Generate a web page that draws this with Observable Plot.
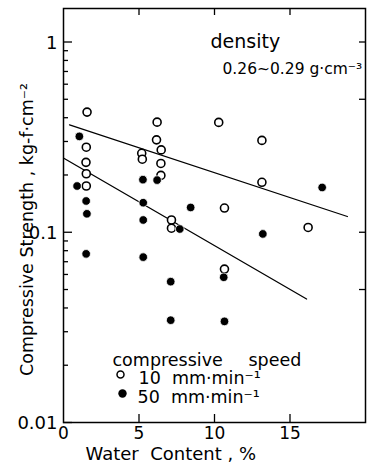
<!DOCTYPE html>
<html><head><meta charset="utf-8">
<script src="https://cdn.jsdelivr.net/npm/d3@7"></script>
<script src="https://cdn.jsdelivr.net/npm/@observablehq/plot@0.6"></script>
<style>body{margin:0;background:#fff;} #chart svg{display:block;}</style>
</head><body><div id="chart"></div>
<script>
// 10 mm/min (open circles)
const water10 = [1.56, 1.51, 1.49, 1.51, 1.51, 5.18, 5.22, 6.2, 6.16, 6.47, 6.45, 6.45, 7.15, 7.15, 10.28, 10.66, 10.66, 13.14, 13.14, 16.2];
const strength10 = [0.428, 0.28, 0.233, 0.203, 0.175, 0.26, 0.242, 0.379, 0.306, 0.271, 0.23, 0.199, 0.116, 0.105, 0.378, 0.134, 0.064, 0.304, 0.183, 0.106];
// 50 mm/min (filled circles)
const water50 = [1.05, 0.9, 1.5, 1.55, 1.5, 5.26, 5.28, 5.28, 5.28, 6.2, 7.1, 7.1, 7.7, 8.42, 10.61, 10.66, 13.2, 17.13];
const strength50 = [0.319, 0.175, 0.146, 0.125, 0.077, 0.189, 0.143, 0.116, 0.074, 0.188, 0.055, 0.0345, 0.104, 0.135, 0.058, 0.034, 0.098, 0.172];
// regression lines (end points)
const fitWater10 = [0.4, 18.8];
const fitStrength10 = [0.367, 0.121];
const fitWater50 = [0.05, 16.1];
const fitStrength50 = [0.244, 0.0446];
// ticks
const xTicks = [0, 5, 10, 15];
const xTickLabels = ["0", "5", "10", "15"];
const yMajor = [0.01, 0.1, 1];
const yMajorLabels = ["0.01", "0.1", "1"];
const yMinor = [0.02,0.03,0.04,0.05,0.06,0.07,0.08,0.09,0.2,0.3,0.4,0.5,0.6,0.7,0.8,0.9];
const yRightTicks = [1, 0.5, 0.1, 0.05];
// texts
const xTitle = "Water  Content , %";
const yTitle = "Compressive Strength , kg-f·cm⁻²";
const densityTitle = "density";
const densityRange = "0.26~0.29 g·cm⁻³";
const legendTitle1 = "compressive";
const legendTitle2 = "speed";
const seriesLabels = ["10  mm·min⁻¹", "50  mm·min⁻¹"];

const pts10 = water10.map((w, i) => ({w, s: strength10[i]}));
const pts50 = water50.map((w, i) => ({w, s: strength50[i]}));
const fit10 = fitWater10.map((w, i) => ({w, s: fitStrength10[i]}));
const fit50 = fitWater50.map((w, i) => ({w, s: fitStrength50[i]}));

const W = 369, H = 464, mL = 63, mR = 4, mT = 8, mB = 42;
const fw = W - mL - mR, fh = H - mT - mB;
const font = "DejaVu Sans";

const chart = Plot.plot({
  width: W, height: H,
  marginLeft: mL, marginRight: mR, marginTop: mT, marginBottom: mB,
  style: {fontFamily: font, background: "white", color: "black"},
  x: {domain: [0, 20], axis: null},
  y: {type: "log", domain: [0.01, 1.5], axis: null},
  marks: [
    Plot.frame({stroke: "black", strokeWidth: 1.5}),
    // inward ticks
    Plot.tickX(xTicks.slice(1), {x: d => d, insetBottom: fh - 7, stroke: "black", strokeWidth: 1.3}),
    Plot.tickX(xTicks.slice(1), {x: d => d, insetTop: fh - 8, stroke: "black", strokeWidth: 1.3}),
    Plot.tickY(yMajor, {y: d => d, insetRight: fw - 9, stroke: "black", strokeWidth: 1.3}),
    Plot.tickY(yMinor, {y: d => d, insetRight: fw - 5, stroke: "black", strokeWidth: 1.3}),
    Plot.tickY(yRightTicks, {y: d => d, insetLeft: fw - 6, stroke: "black", strokeWidth: 1.3}),
    // tick labels
    Plot.text(xTicks, {x: d => d, frameAnchor: "bottom", text: (d, i) => xTickLabels[i], dy: 16, lineAnchor: "bottom", fontSize: 17}),
    Plot.text(yMajor, {y: d => d, frameAnchor: "left", text: (d, i) => yMajorLabels[i], dx: -6, dy: 1, textAnchor: "end", fontSize: 18}),
    // axis titles
    Plot.text([xTitle], {frameAnchor: "bottom-left", dx: 22, dy: 37, textAnchor: "start", lineAnchor: "bottom", fontSize: 18}),
    Plot.text([yTitle], {frameAnchor: "left", dx: -31, dy: 14, rotate: -90, textAnchor: "middle", lineAnchor: "bottom", fontSize: 17.5}),
    // regression lines
    Plot.line(fit10, {x: "w", y: "s", stroke: "black", strokeWidth: 1.3}),
    Plot.line(fit50, {x: "w", y: "s", stroke: "black", strokeWidth: 1.3}),
    // points
    Plot.dot(pts10, {x: "w", y: "s", r: 4, fill: "white", stroke: "black", strokeWidth: 1.6}),
    Plot.dot(pts50, {x: "w", y: "s", r: 4.3, fill: "black", stroke: "white", strokeWidth: 0.8}),
    // annotations
    Plot.text([densityTitle], {frameAnchor: "top-left", dx: 147, dy: 39, textAnchor: "start", lineAnchor: "bottom", fontSize: 19}),
    Plot.text([densityRange], {frameAnchor: "top-left", dx: 159, dy: 65, textAnchor: "start", lineAnchor: "bottom", fontSize: 15.5}),
    // legend
    Plot.text([legendTitle1], {frameAnchor: "bottom-left", dx: 49, dy: -57, textAnchor: "start", lineAnchor: "bottom", fontSize: 17.5}),
    Plot.text([legendTitle2], {frameAnchor: "bottom-left", dx: 185, dy: -57, textAnchor: "start", lineAnchor: "bottom", fontSize: 17.5}),
    Plot.dot([0], {frameAnchor: "bottom-left", dx: 57, dy: -48, r: 3.5, fill: "white", stroke: "black", strokeWidth: 1.5}),
    Plot.dot([0], {frameAnchor: "bottom-left", dx: 59, dy: -29, r: 4.2, fill: "black"}),
    Plot.text([seriesLabels[0]], {frameAnchor: "bottom-left", dx: 75, dy: -39, textAnchor: "start", lineAnchor: "bottom", fontSize: 17.5}),
    Plot.text([seriesLabels[1]], {frameAnchor: "bottom-left", dx: 74, dy: -20, textAnchor: "start", lineAnchor: "bottom", fontSize: 17.5})
  ]
});
document.getElementById("chart").appendChild(chart);
</script>
</body></html>
